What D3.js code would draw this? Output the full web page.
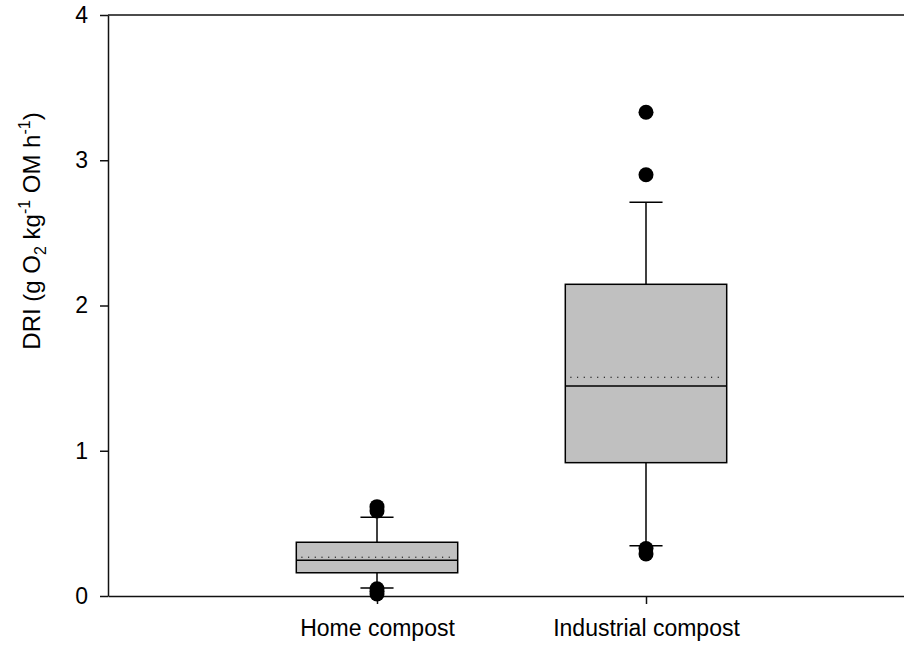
<!DOCTYPE html>
<html>
<head>
<meta charset="utf-8">
<script src="https://cdn.jsdelivr.net/npm/d3@7"></script>
<style>
  body { margin: 0; background: #fff; }
  svg { display: block; font-family: "Liberation Sans", Arial, sans-serif; }
  .axis path, .axis line { stroke: #111; stroke-width: 1.5; }
  .axis text { font-size: 23px; fill: #000; font-family: "Liberation Sans", Arial, sans-serif; }
</style>
</head>
<body>
<div id="chart"></div>
<script>
// box plot stats
const categories = ["Home compost", "Industrial compost"];
const whiskerLow = [0.055, 0.346];
const q1 = [0.16, 0.918];
const median = [0.246, 1.446];
const mean = [0.267, 1.506];
const q3 = [0.37, 2.146];
const whiskerHigh = [0.542, 2.71];
const outliers = [
    [0.615, 0.585, 0.05, 0.032, 0.014],
    [3.33, 2.90, 0.327, 0.29]
];
const yTicks = [0, 1, 2, 3, 4];

const width = 904, height = 648;
const margin = { top: 15, left: 108, bottom: 52 };
const plotRight = 915;   // frame runs past the window edge

const svg = d3.select('#chart').append('svg')
    .attr('width', width)
    .attr('height', height);

const x = d3.scalePoint().domain(categories).range([margin.left, plotRight]).padding(1);
const y = d3.scaleLinear().domain([0, 4]).range([height - margin.bottom, margin.top]);

const step = x.step();
const boxW = step * 0.6;
const capW = step * 0.123;

// frame top
svg.append('line')
    .attr('x1', margin.left).attr('x2', plotRight)
    .attr('y1', y(4)).attr('y2', y(4))
    .attr('stroke', '#111').attr('stroke-width', 1.5);

// axes
svg.append('g')
    .attr('class', 'axis')
    .attr('transform', `translate(${margin.left},0)`)
    .call(d3.axisLeft(y).tickValues(yTicks).tickFormat(d3.format('d')).tickSize(8).tickSizeOuter(0).tickPadding(12));

svg.append('g')
    .attr('class', 'axis')
    .attr('transform', `translate(0,${y(0)})`)
    .call(d3.axisBottom(x).tickSize(8).tickSizeOuter(0).tickPadding(16));

// y label
const yl = svg.append('text')
    .attr('transform', 'translate(40,231) rotate(-90)')
    .attr('text-anchor', 'middle')
    .style('font-size', '24px');
yl.append('tspan').text('DRI (g O');
yl.append('tspan').attr('dy', 6).style('font-size', '16px').text('2');
yl.append('tspan').attr('dy', -6).text(' kg');
yl.append('tspan').attr('dy', -10).style('font-size', '16px').text('-1');
yl.append('tspan').attr('dy', 10).text(' OM h');
yl.append('tspan').attr('dy', -10).style('font-size', '16px').text('-1');
yl.append('tspan').attr('dy', 10).text(')');

const idx = d3.range(categories.length);
const g = svg.append('g');

// whiskers
g.selectAll('.wlow').data(idx).enter().append('line')
    .attr('x1', i => x(categories[i])).attr('x2', i => x(categories[i]))
    .attr('y1', i => y(q1[i])).attr('y2', i => y(whiskerLow[i]))
    .attr('stroke', '#000').attr('stroke-width', 1.5);
g.selectAll('.whigh').data(idx).enter().append('line')
    .attr('x1', i => x(categories[i])).attr('x2', i => x(categories[i]))
    .attr('y1', i => y(q3[i])).attr('y2', i => y(whiskerHigh[i]))
    .attr('stroke', '#000').attr('stroke-width', 1.5);

// caps
[whiskerLow, whiskerHigh].forEach(arr => {
    g.selectAll(null).data(idx).enter().append('line')
        .attr('x1', i => x(categories[i]) - capW / 2).attr('x2', i => x(categories[i]) + capW / 2)
        .attr('y1', i => y(arr[i])).attr('y2', i => y(arr[i]))
        .attr('stroke', '#000').attr('stroke-width', 1.5);
});

// boxes
g.selectAll('.box').data(idx).enter().append('rect')
    .attr('x', i => x(categories[i]) - boxW / 2)
    .attr('y', i => y(q3[i]))
    .attr('width', boxW)
    .attr('height', i => y(q1[i]) - y(q3[i]))
    .attr('fill', '#c0c0c0')
    .attr('stroke', '#000').attr('stroke-width', 1.5);

// median
g.selectAll('.med').data(idx).enter().append('line')
    .attr('x1', i => x(categories[i]) - boxW / 2).attr('x2', i => x(categories[i]) + boxW / 2)
    .attr('y1', i => y(median[i])).attr('y2', i => y(median[i]))
    .attr('stroke', '#000').attr('stroke-width', 1.5);

// mean (dotted)
g.selectAll('.mean').data(idx).enter().append('line')
    .attr('x1', i => x(categories[i]) - boxW / 2 + 5).attr('x2', i => x(categories[i]) + boxW / 2 - 4)
    .attr('y1', i => y(mean[i])).attr('y2', i => y(mean[i]))
    .attr('stroke', '#000').attr('stroke-width', 1)
    .attr('stroke-dasharray', '1.2,5.5');

// outliers
const pts = [];
outliers.forEach((arr, i) => arr.forEach(v => pts.push([categories[i], v])));
g.selectAll('.out').data(pts).enter().append('circle')
    .attr('cx', d => x(d[0]))
    .attr('cy', d => y(d[1]))
    .attr('r', 7.5)
    .attr('fill', '#000');
</script>
</body>
</html>
